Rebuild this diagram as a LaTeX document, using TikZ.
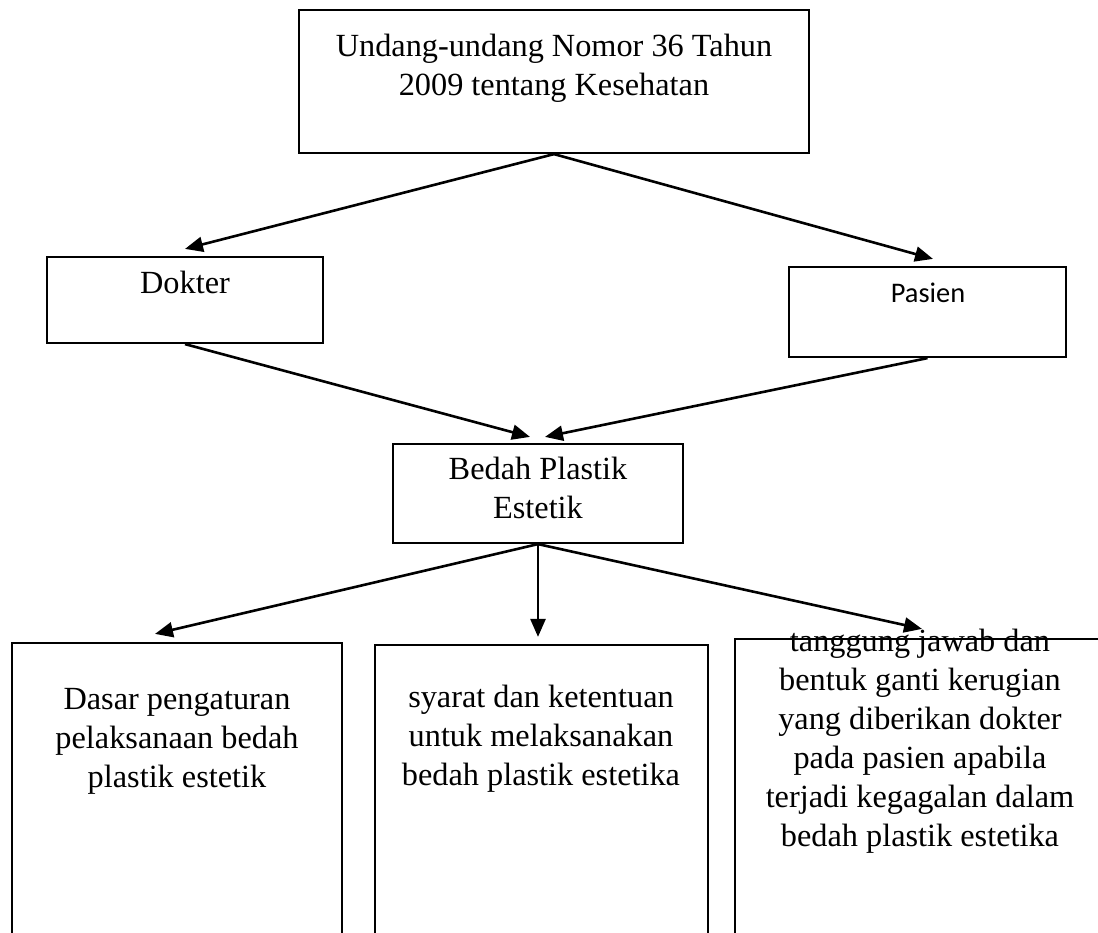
\documentclass[tikz,border=0pt]{standalone}
\usepackage{fontspec}
\setmainfont{Liberation Serif}
\newfontfamily\calibrifont{Carlito}
\usetikzlibrary{arrows.meta,positioning,calc}

\begin{document}
\begin{tikzpicture}[
  x=0.5pt, y=-0.5pt,
  box/.style={draw, line width=1.1pt, inner sep=0pt},
  txt/.style={align=center, inner sep=0pt, font=\fontsize{16.15}{19.5}\selectfont},
  arr/.style={-{Triangle[length=9pt,width=7.5pt]}, line width=1.3pt}
]
\clip (0,0) rectangle (1098,932);
% boxes
\node[box, minimum width=255pt, minimum height=71.5pt] (uu) at (554,81.5) {};
\node[box, minimum width=138pt, minimum height=43pt] (dok) at (185,300) {};
\node[box, minimum width=138.5pt, minimum height=45pt] (pas) at (927.5,312) {};
\node[box, minimum width=145pt, minimum height=49.5pt] (bed) at (538,493.5) {};
\node[box, minimum width=165pt, minimum height=160pt] (b1) at (177,803) {};
\node[box, minimum width=166.5pt, minimum height=160pt] (b2) at (541.5,805) {};
\node[box, minimum width=185pt, minimum height=160pt] (b3) at (920,799) {};
% texts
\node[txt] (uulbl) at (554,68) {Undang-undang Nomor 36 Tahun\\2009 tentang Kesehatan};
\node[txt] (doklbl) at (185,282) {Dokter};
\node[txt, font=\calibrifont\fontsize{14.2}{17}\selectfont] (paslbl) at (928,293) {Pasien};
\node[txt] (bedlbl) at (538,488) {Bedah Plastik\\Estetik};
\node[txt] (b1lbl) at (177,741) {Dasar pengaturan\\pelaksanaan bedah\\plastik estetik};
\node[txt] (b2lbl) at (541,739) {syarat dan ketentuan\\untuk melaksanakan\\bedah plastik estetika};
\node[txt] (b3lbl) at (920,741) {tanggung jawab dan\\bentuk ganti kerugian\\yang diberikan dokter\\pada pasien apabila\\terjadi kegagalan dalam\\bedah plastik estetika};
% arrows
\draw[arr] (uu.south) -- ($(dok.north)+(0,-7)$);
\draw[arr] (uu.south) -- ($(pas.north)+(5.5,-7)$);
\draw[arr] (dok.south) -- ($(bed.north)+(-8,-6)$);
\draw[arr] (pas.south) -- ($(bed.north)+(7,-6)$);
\draw[arr] (bed.south) -- ($(b1.north)+(-22,-8)$);
\draw[arr, shorten >=3.5pt] (bed.south) -- (bed.south |- b2.north);
\draw[arr] (bed.south) -- ($(b3.north)+(2,-9)$);
\end{tikzpicture}
\end{document}
